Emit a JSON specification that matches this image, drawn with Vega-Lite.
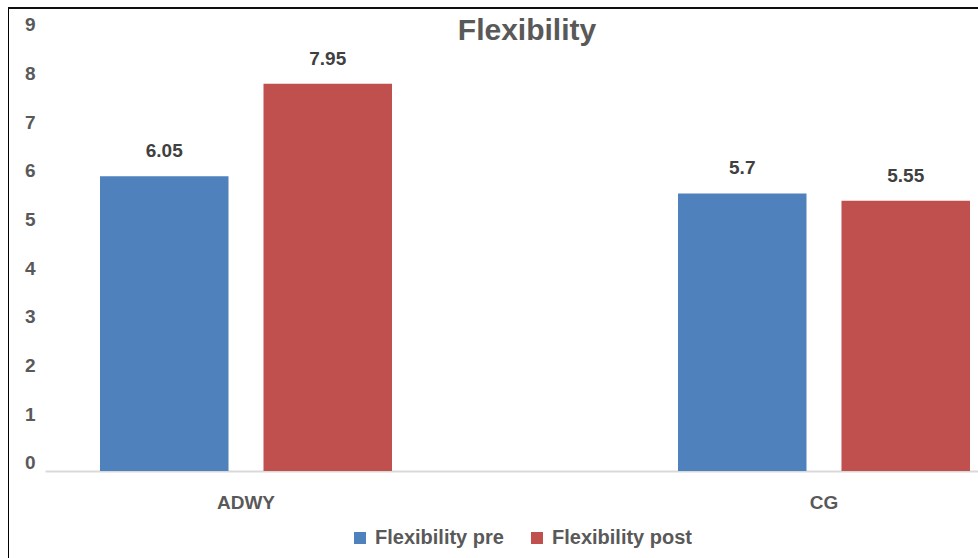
{
  "$schema": "https://vega.github.io/schema/vega-lite/v6.json",
  "width": 970,
  "height": 550,
  "autosize": {"type": "none"},
  "padding": {"left": 8, "top": 8, "right": 0, "bottom": 0},
  "background": "white",
  "config": {
    "view": {"stroke": null},
    "font": "Liberation Sans"
  },
  "title": {
    "text": "Flexibility",
    "fontSize": 30,
    "fontWeight": "bold",
    "color": "#595959",
    "font": "Liberation Sans",
    "anchor": "middle",
    "dx": 34,
    "offset": -38
  },
  "data": {
    "values": [
      {"group": "ADWY", "series": "Flexibility pre", "value": 6.05},
      {"group": "ADWY", "series": "Flexibility post", "value": 7.95},
      {"group": "CG", "series": "Flexibility pre", "value": 5.7},
      {"group": "CG", "series": "Flexibility post", "value": 5.55}
    ]
  },
  "layer": [
    {
      "mark": {"type": "bar"},
      "encoding": {
        "x": {
          "field": "group",
          "type": "nominal",
          "sort": ["ADWY", "CG"],
          "scale": {"range": [37, 970], "paddingInner": 0.4948, "paddingOuter": 0.0545, "align": 0.873},
          "axis": {
            "orient": "bottom",
            "offset": -87,
            "title": null,
            "labelAngle": 0,
            "domainColor": "#d9d9d9",
            "domainWidth": 2,
            "ticks": false,
            "tickSize": 0,
            "labelPadding": 22,
            "labelFont": "Liberation Sans",
            "labelFontSize": 19,
            "labelFontWeight": "bold",
            "labelColor": "#595959"
          }
        },
        "xOffset": {
          "field": "series",
          "type": "nominal",
          "sort": ["Flexibility pre", "Flexibility post"],
          "scale": {"paddingInner": 0.214, "paddingOuter": 0}
        },
        "y": {
          "field": "value",
          "type": "quantitative",
          "scale": {"domain": [-1.787, 9.507], "nice": false, "zero": false},
          "axis": {
            "orient": "left",
            "title": null,
            "values": [0, 1, 2, 3, 4, 5, 6, 7, 8, 9],
            "grid": false,
            "ticks": false,
            "tickSize": 0,
            "domain": true,
            "domainColor": "#000000",
            "domainWidth": 1,
            "labelAlign": "right",
            "labelPadding": -27,
            "labelOffset": -8,
            "labelFont": "Liberation Sans",
            "labelFontSize": 19,
            "labelFontWeight": "bold",
            "labelColor": "#595959"
          }
        },
        "y2": {"datum": 0},
        "color": {
          "field": "series",
          "type": "nominal",
          "sort": ["Flexibility pre", "Flexibility post"],
          "scale": {"domain": ["Flexibility pre", "Flexibility post"], "range": ["#4f81bd", "#c0504d"]},
          "legend": {
            "title": null,
            "orient": "none",
            "direction": "horizontal",
            "legendX": 342,
            "legendY": 520,
            "padding": 0,
            "symbolType": "square",
            "symbolSize": 144,
            "symbolStrokeWidth": 0,
            "symbolOpacity": 1,
            "labelOffset": 5,
            "columnPadding": 23,
            "labelFont": "Liberation Sans",
            "labelFontSize": 20,
            "labelFontWeight": "bold",
            "labelColor": "#595959"
          }
        }
      }
    },
    {
      "mark": {"type": "text", "baseline": "alphabetic", "dy": -19, "fontSize": 19, "fontWeight": "bold", "color": "#404040", "font": "Liberation Sans"},
      "encoding": {
        "x": {"field": "group", "type": "nominal", "sort": ["ADWY", "CG"]},
        "xOffset": {"field": "series", "type": "nominal", "sort": ["Flexibility pre", "Flexibility post"]},
        "y": {"field": "value", "type": "quantitative"},
        "text": {"field": "value", "type": "nominal"}
      }
    },
    {
      "mark": {"type": "rule", "color": "#000000", "strokeWidth": 1},
      "encoding": {
        "y": {"datum": 9.507}
      }
    }
  ]
}
